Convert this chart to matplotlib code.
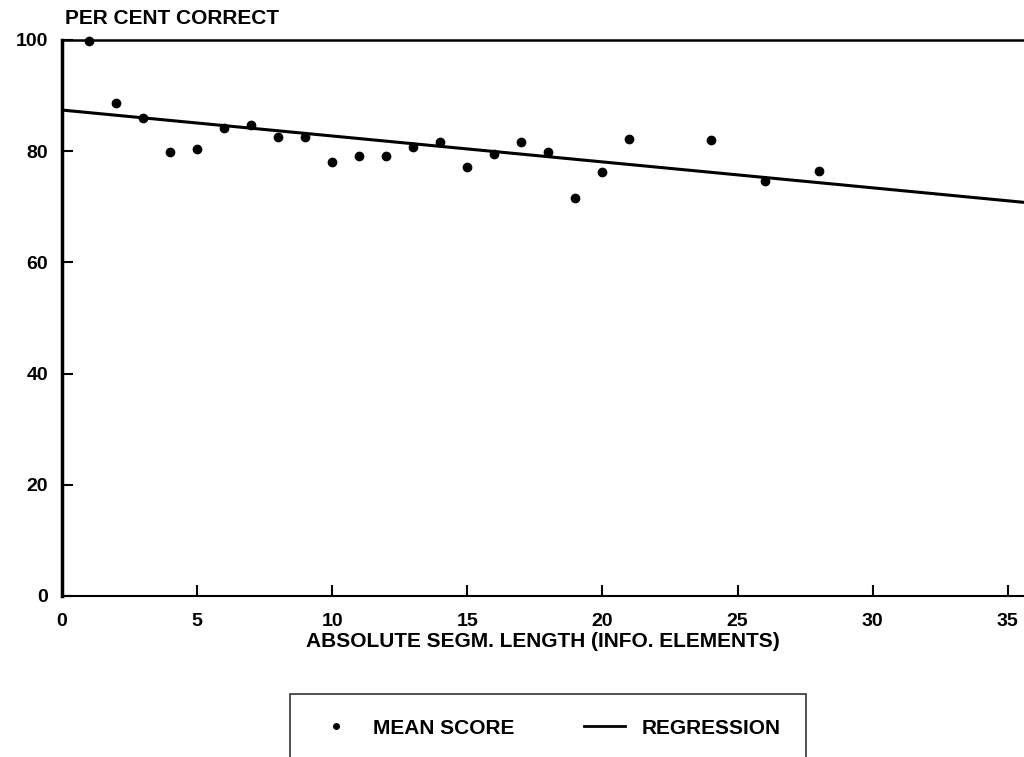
import matplotlib.pyplot as plt
from matplotlib.lines import Line2D

# segment length (info elements) vs mean score
seg_len = [1, 2, 3, 4, 5, 6, 7, 8, 9, 10, 11, 12, 13, 14, 15, 16, 17, 18, 19, 20, 21, 24, 26, 28]
mean_score = [99.9, 88.6, 85.9, 79.8, 80.4, 84.1, 84.8, 82.5, 82.5, 78.0, 79.1, 79.1,
              80.8, 81.7, 77.1, 79.5, 81.7, 79.8, 71.6, 76.3, 82.2, 82.1, 74.7, 76.5]

# regression line ends
reg_x = [0, 35.6]
reg_y = [87.4, 70.8]

x_ticks = [0, 5, 10, 15, 20, 25, 30, 35]
y_ticks = [0, 20, 40, 60, 80, 100]

plt.rcParams['font.family'] = ['Liberation Sans', 'DejaVu Sans']
plt.rcParams['font.weight'] = 'bold'

fig = plt.figure(figsize=(10.24, 7.57), dpi=100)
ax = fig.add_axes([62 / 1024, 1 - 596 / 757, 1 - 62 / 1024, (596 - 40) / 757])

ax.plot(reg_x, reg_y, color='black', lw=2.2, solid_capstyle='butt', clip_on=False)
ax.plot(seg_len, mean_score, 'o', color='black', ms=6, clip_on=False)

ax.set_xlim(0, 35.6)
ax.set_ylim(0, 100)
ax.set_xticks(x_ticks)
ax.set_yticks(y_ticks)
ax.tick_params(direction='in', length=8, width=1.5, labelsize=14, colors='black')
ax.tick_params(axis='x', pad=12)
ax.tick_params(axis='y', pad=10)
for lab in ax.get_xticklabels() + ax.get_yticklabels():
    lab.set_fontweight('bold')

ax.spines['right'].set_visible(False)
ax.spines['left'].set_linewidth(2.5)
ax.spines['bottom'].set_linewidth(1.5)
ax.spines['top'].set_linewidth(1.8)

ax.set_xlabel('ABSOLUTE SEGM. LENGTH (INFO. ELEMENTS)', fontsize=15, fontweight='bold', labelpad=2)
fig.text(65 / 1024, 1 - 18 / 757, 'PER CENT CORRECT', fontsize=15, fontweight='bold',
         ha='left', va='center')

handles = [Line2D([], [], marker='o', ls='none', color='black', ms=4),
           Line2D([], [], color='black', lw=2)]
leg = fig.legend(handles, ['MEAN SCORE', 'REGRESSION'], ncol=2, loc='center',
                 bbox_to_anchor=(548 / 1024, 1 - 728 / 757), fontsize=15,
                 frameon=True, fancybox=False, edgecolor='black', borderpad=1.2,
                 handlelength=2.0, handletextpad=0.8, columnspacing=3.3)
leg.get_frame().set_linewidth(1.2)
for t in leg.get_texts():
    t.set_fontweight('bold')

fig.savefig('out.png', dpi=100)
